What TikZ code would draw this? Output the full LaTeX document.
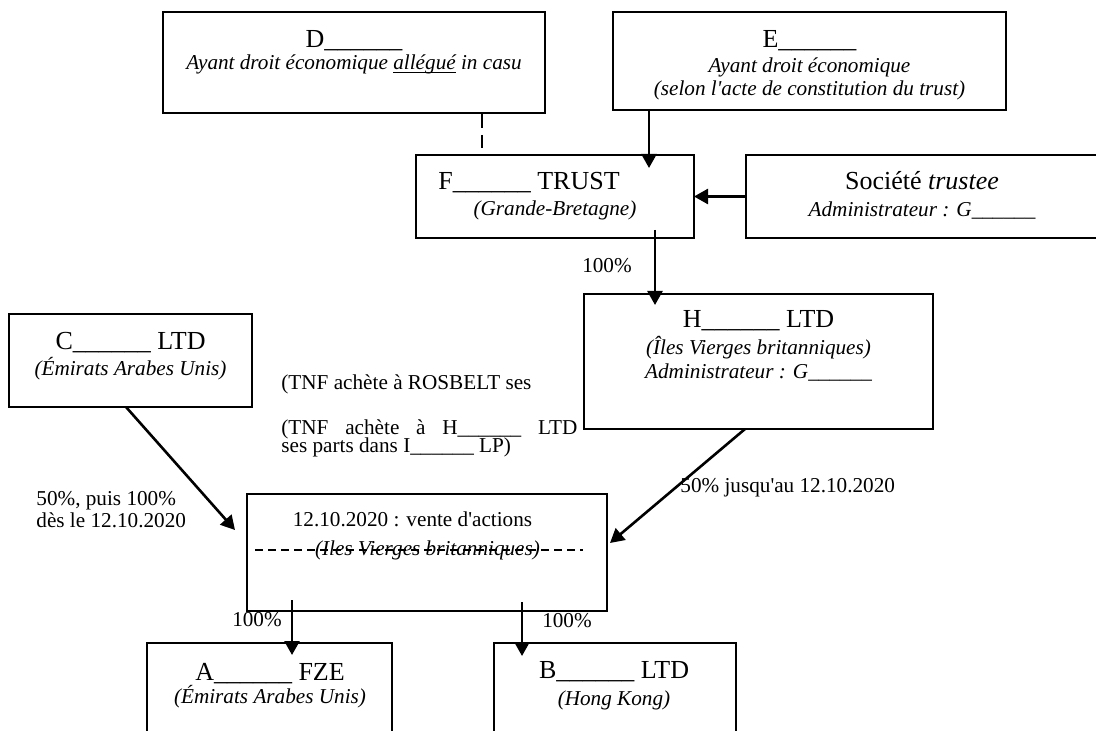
\documentclass[tikz,border=0pt]{standalone}
\usepackage{fontspec}
\setmainfont{Liberation Serif}[Ligatures=TeXOff]
\usetikzlibrary{arrows.meta}
\newcommand{\bigf}{\fontsize{13}{15}\selectfont}
\newcommand{\smf}{\fontsize{10.6}{13}\selectfont}
\newcommand{\blank}{\_\_\_\_\_\_}
\newsavebox{\ulbox}
\newcommand{\myul}[1]{\sbox{\ulbox}{#1}\rlap{\rule[-1.3pt]{\wd\ulbox}{0.5pt}}\usebox{\ulbox}}
\begin{document}
\begin{tikzpicture}[x=0.5pt,y=-0.5pt,
  box/.style={draw,line width=1pt,inner sep=0pt,outer sep=0pt},
  arr/.style={line width=1.3pt,-{Triangle[length=7pt,width=7.5pt]}},
  dsh/.style={line width=1.1pt,dash pattern=on 7.5pt off 3.5pt},
  big/.style={anchor=base,inner sep=0pt,font=\bigf},
  sm/.style={anchor=base,inner sep=0pt,font=\smf},
  it/.style={anchor=base,inner sep=0pt,font=\smf\itshape},
  lbl/.style={anchor=base west,inner sep=0pt,font=\smf}]
\clip (0,0) rectangle (1096,731);
\fill[white] (0,0) rectangle (1096,731);

% boxes
\node[box,minimum width=191pt,minimum height=50.5pt] (D) at (354,62.5) {};
\node[box,minimum width=196.5pt,minimum height=49pt] (E) at (809.5,61) {};
\node[box,minimum width=139pt,minimum height=41.5pt] (F) at (555,196.5) {};
\node[box,minimum width=176pt,minimum height=41.5pt] (S) at (922,196.5) {};
\node[box,minimum width=174.5pt,minimum height=67.5pt] (H) at (758.5,361.5) {};
\node[box,minimum width=121.5pt,minimum height=46.5pt] (C) at (130.5,360.5) {};
\node[box,minimum width=180pt,minimum height=58.5pt] (M) at (427,552.5) {};
\node[box,minimum width=122.5pt,minimum height=53.5pt] (A) at (269.5,696.5) {};
\node[box,minimum width=121pt,minimum height=53.5pt] (B) at (615,696.5) {};

% texts in boxes
\node[big] (D1) at (354,48) {D\blank};
\node[it] (D2) at (354,70) {Ayant droit économique \myul{allégué} in casu};
\node[big] (E1) at (809.5,48) {E\blank};
\node[it] (E2) at (809.5,72.5) {Ayant droit économique};
\node[it] (E3) at (809.5,95.5) {(selon l'acte de constitution du trust)};
\node[big] (F1) at (529,190) {F\blank{} TRUST};
\node[it] (F2) at (555,216) {(Grande-Bretagne)};
\node[big] (S1) at (922,190) {Société \textit{trustee}};
\node[it] (S2) at (922,217) {Administrateur : G\blank};
\node[big] (H1) at (758.5,328) {H\blank{} LTD};
\node[it] (H2) at (758.5,355) {(Îles Vierges britanniques)};
\node[it] (H3) at (758.5,379) {Administrateur : G\blank};
\node[big] (C1) at (130.5,350) {C\blank{} LTD};
\node[it] (C2) at (130.5,376) {(Émirats Arabes Unis)};
\node[sm] (M1) at (412.5,526) {12.10.2020 : vente d'actions};
\node[it] (M2) at (427.5,555) {(Iles Vierges britanniques)};
\node[big] (A1) at (270,680) {A\blank{} FZE};
\node[it] (A2) at (270,703) {(Émirats Arabes Unis)};
\node[big] (B1) at (614,678) {B\blank{} LTD};
\node[it] (B2) at (614,705) {(Hong Kong)};

% strike line through M2
\coordinate (ml) at (255,550);
\coordinate (mr) at (583,550);
\draw[line width=0.7pt,dash pattern=on 4pt off 2.5pt] (ml) -- (mr);

% free labels
\node[sm] (p1) at (607,273) {100\%};
\node[sm] (p2) at (257,626) {100\%};
\node[sm] (p3) at (567,627) {100\%};
\node[lbl] (l1) at (36,505) {50\%, puis 100\%};
\node[lbl] (l2) at (36,527) {dès le 12.10.2020};
\node[lbl] (n1) at (281,390) {(TNF achète à ROSBELT ses};
\node[lbl] (n2) at (281,435) {\makebox[148pt][s]{(TNF achète à H\blank{} LTD}};
\node[lbl] (n3) at (281,452) {ses parts dans I\blank{} LP)};

% connectors
\draw[dsh] (D.south west) ++(319,0) -- ++(0,35);
\draw[arr] (E.south west) ++(36,0) -- ++(0,58);
\draw[arr] (S.west) -- (F.east);
\draw[arr] (F.south west) ++(239,-8) -- ++(0,75);
\draw[arr] ([xshift=-2.25pt]C.south) -- ([xshift=-6pt,yshift=11.25pt]M.west);
\draw[arr] ([xshift=-6.75pt]H.south) -- ([xshift=1.5pt,yshift=4.75pt]M.east);
\node[lbl] (l3) at (680,492) {50\% jusqu'au 12.10.2020};
\draw[arr] ([xshift=-67.5pt,yshift=5.5pt]M.south) -- ([xshift=11.25pt,yshift=-6pt]A.north);
\draw[arr] ([xshift=47.5pt,yshift=4.5pt]M.south) -- ([xshift=-46.5pt,yshift=-6.5pt]B.north);
\end{tikzpicture}
\end{document}
